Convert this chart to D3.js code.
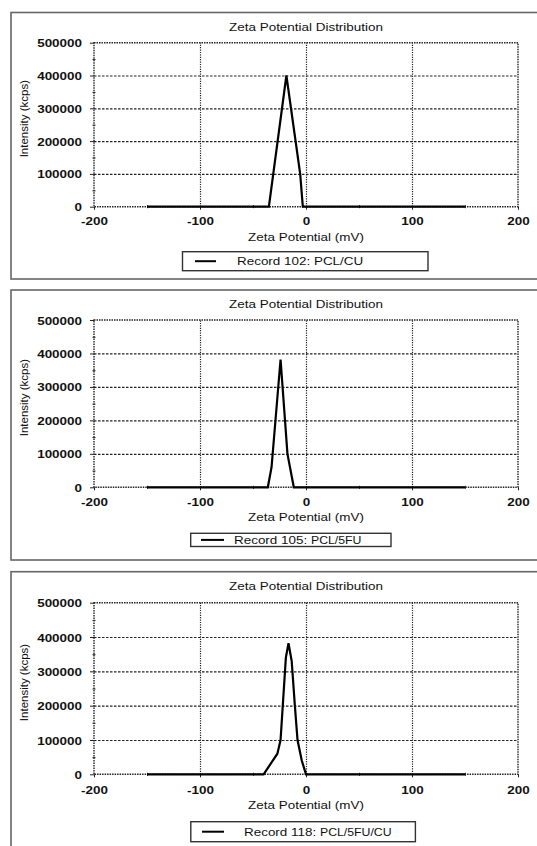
<!DOCTYPE html>
<html>
<head>
<meta charset="utf-8">
<script src="https://cdn.jsdelivr.net/npm/d3@7"></script>
<style>
body { margin: 0; background: #fff; }
svg { display: block; font-family: "Liberation Sans", Arial, sans-serif; }
</style>
</head>
<body>
<svg></svg>
<script>
// Ticks
let xTicks = [-200, -100, 0, 100, 200]
let xMinorTicks = [-150, -50, 50, 150]
let yTicks = [0, 100000, 200000, 300000, 400000, 500000]
let yMinorTicks = [50000, 150000, 250000, 350000, 450000]

// Record 102: PCL/CU
let potential102 = [-150, -35, -18.5, -5.5, -3, 150]
let intensity102 = [0, 0, 400000, 100000, 0, 0]

// Record 105: PCL/5FU
let potential105 = [-150, -36, -32.5, -24, -17.5, -11.5, 150]
let intensity105 = [0, 0, 60000, 382000, 100000, 0, 0]

// Record 118: PCL/5FU/CU
let potential118 = [-150, -40, -27, -24, -19, -16.5, -13.5, -10.5, -8, -4, 0, 150]
let intensity118 = [0, 0, 60000, 100000, 340000, 382000, 330000, 200000, 100000, 40000, 0, 0]

// Labels
let recordNames = ['Record 102: ', 'Record 105: ', 'Record 118: ']
let sampleNames = ['PCL/CU', 'PCL/5FU', 'PCL/5FU/CU']
let chartTitle = 'Zeta Potential Distribution'
let xLabel = 'Zeta Potential (mV)'
let yLabel = 'Intensity (kcps)'

// Page
let width = 537
let height = 846
let sx = 1.17   // the figure is stretched sideways
let left = 94
let right = 518

let svg = d3.select('svg')
            .attr('width', width)
            .attr('height', height)

// Panel layout
let panels = [
    { px: potential102, py: intensity102, box: [12.5, 279], plot: [42.7, 206.7], title: 26.7, tick: 220.7, xt: 236.7,
      leg: [182.5, 251.7, 428, 270.7], legLine: [195, 216], legText: 237, smallName: false },
    { px: potential105, py: intensity105, box: [290, 560], plot: [320, 487.3], title: 304, tick: 501.7, xt: 516.7,
      leg: [190.7, 533.3, 391, 546.5], legLine: [201, 224], legText: 234, smallName: true },
    { px: potential118, py: intensity118, box: [571.7, 900], plot: [602.7, 774.3], title: 586, tick: 790, xt: 805,
      leg: [190.8, 821.7, 415.4, 841.7], legLine: [202, 224], legText: 244, smallName: true }
]

function stretched(g, x, y, str, size, anchor) {
    return g.append('text')
        .attr('transform', `translate(${x},${y}) scale(${sx},1)`)
        .attr('text-anchor', anchor)
        .attr('dy', '0.35em')
        .style('font-size', size + 'px')
        .attr('fill', '#111')
        .text(str)
}

panels.forEach((p, k) => {
    let g = svg.append('g')
    let top = p.plot[0]
    let bottom = p.plot[1]

    // Scales
    let x = d3.scaleLinear().domain([-200, 200]).range([left, right])
    let y = d3.scaleLinear().domain([0, 500000]).range([bottom, top])

    // Panel border
    g.append('rect')
        .attr('x', 11)
        .attr('y', p.box[0])
        .attr('width', 600)
        .attr('height', p.box[1] - p.box[0])
        .attr('fill', 'none')
        .attr('stroke', '#666')
        .attr('stroke-width', 1.6)

    // Gridlines
    let gx = g.append('g')
        .attr('transform', `translate(0,${bottom})`)
        .call(d3.axisBottom(x).tickValues([-100, 0, 100]).tickFormat('').tickSize(-(bottom - top)))
    gx.select('.domain').remove()
    gx.selectAll('line').attr('stroke', '#222').attr('stroke-width', 1.2).attr('stroke-dasharray', '1.2,1.2')

    let gy = g.append('g')
        .attr('transform', `translate(${left},0)`)
        .call(d3.axisLeft(y).tickValues([100000, 200000, 300000, 400000]).tickFormat('').tickSize(-(right - left)))
    gy.select('.domain').remove()
    gy.selectAll('line').attr('stroke', '#222').attr('stroke-width', 1.2).attr('stroke-dasharray', '2.5,1.5')

    // Frame
    g.append('rect')
        .attr('x', left)
        .attr('y', top)
        .attr('width', right - left)
        .attr('height', bottom - top)
        .attr('fill', 'none')
        .attr('stroke', '#222')
        .attr('stroke-width', 1.4)
        .attr('stroke-dasharray', '1.5,1')

    // Y axis
    let ay = g.append('g')
        .attr('transform', `translate(${left},0)`)
        .call(d3.axisLeft(y).tickValues(yTicks).tickSize(4).tickFormat(d => String(d)))
    ay.select('.domain').remove()
    ay.selectAll('line').attr('stroke', '#222')
    ay.selectAll('text')
        .attr('x', -12 / sx)
        .attr('dy', '0.35em')
        .attr('transform', `scale(${sx},1)`)
        .attr('fill', '#111')
        .style('font-size', '11.5px')
        .style('font-weight', 'bold')
        .style('font-family', '"Liberation Sans", Arial, sans-serif')

    let myn = g.append('g')
        .attr('transform', `translate(${left + 1.5},0)`)
        .call(d3.axisLeft(y).tickValues(yMinorTicks).tickSize(3).tickFormat(''))
    myn.select('.domain').remove()
    myn.selectAll('line').attr('stroke', '#222')

    // X axis
    let ax = g.append('g')
        .attr('transform', `translate(0,${bottom})`)
        .call(d3.axisBottom(x).tickValues(xTicks).tickSize(3).tickFormat(d => String(d)))
    ax.select('.domain').remove()
    ax.selectAll('line').attr('stroke', '#222')
    ax.selectAll('text')
        .attr('y', p.tick - bottom)
        .attr('dy', '0.35em')
        .attr('transform', `scale(${sx},1)`)
        .attr('fill', '#111')
        .style('font-size', '11.5px')
        .style('font-weight', 'bold')
        .style('font-family', '"Liberation Sans", Arial, sans-serif')

    let mxn = g.append('g')
        .attr('transform', `translate(0,${bottom + 1.5})`)
        .call(d3.axisTop(x).tickValues(xMinorTicks).tickSize(3).tickFormat(''))
    mxn.select('.domain').remove()
    mxn.selectAll('line').attr('stroke', '#222')

    // Data line
    let line = d3.line()
        .x(i => x(p.px[i]))
        .y(i => y(p.py[i]))

    g.append('path')
        .datum(d3.range(p.px.length))
        .attr('d', line)
        .attr('fill', 'none')
        .attr('stroke', '#000')
        .attr('stroke-width', 2.2)
        .attr('stroke-linejoin', 'miter')

    // Title and axis labels
    stretched(g, (left + right) / 2, p.title, chartTitle, 11.5, 'middle')
    stretched(g, (left + right) / 2, p.xt, xLabel, 11.5, 'middle')

    g.append('text')
        .attr('transform', `translate(24,${(top + bottom) / 2 - 6}) rotate(-90)`)
        .attr('text-anchor', 'middle')
        .attr('dy', '0.35em')
        .attr('fill', '#111')
        .style('font-size', '11.5px')
        .text(yLabel)

    // Legend
    g.append('rect')
        .attr('x', p.leg[0])
        .attr('y', p.leg[1])
        .attr('width', p.leg[2] - p.leg[0])
        .attr('height', p.leg[3] - p.leg[1])
        .attr('fill', '#fff')
        .attr('stroke', '#333')
        .attr('stroke-width', 1.4)

    let ly = (p.leg[1] + p.leg[3]) / 2
    g.append('line')
        .attr('x1', p.legLine[0])
        .attr('x2', p.legLine[1])
        .attr('y1', ly)
        .attr('y2', ly)
        .attr('stroke', '#000')
        .attr('stroke-width', 2)

    let lt = stretched(g, p.legText, ly, '', 11.5, 'start')
    lt.append('tspan').text(recordNames[k])
    lt.append('tspan').style('font-size', p.smallName ? '10.5px' : '11.5px').text(sampleNames[k])
})
</script>
</body>
</html>
